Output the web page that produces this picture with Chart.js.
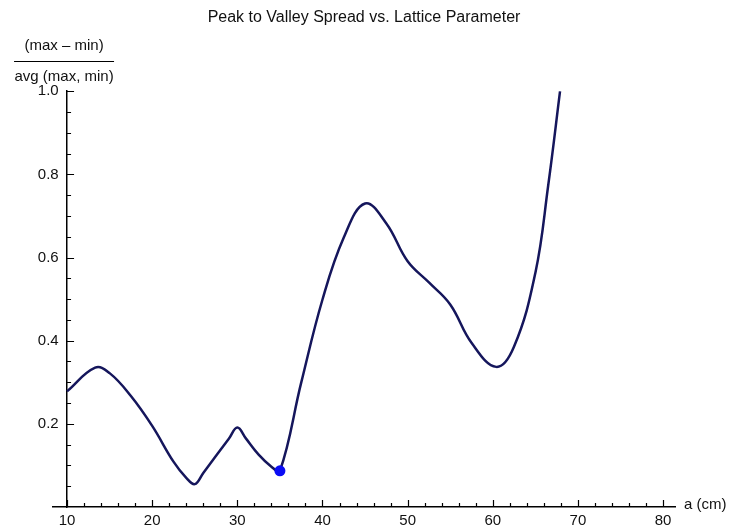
<!DOCTYPE html>
<html>
<head>
<meta charset="utf-8">
<script src="https://cdn.jsdelivr.net/npm/chart.js@4"></script>
<style>
  body { margin: 0; background: #fff; }
  canvas { display: block; }
</style>
</head>
<body>
<canvas id="spreadChart" width="730" height="532"></canvas>
<script>
// lattice parameter a (cm) and the peak-to-valley spread
var latticeA = [10, 13.3, 15, 17.5, 20, 22.5, 24, 25, 26, 29, 30, 31, 32.5, 34, 35, 37.5, 40, 42.5, 45, 47.5, 50, 52.5, 55, 57.5, 60.4, 62.5, 65, 66.5, 67.9];
var spread = [0.278, 0.335, 0.322, 0.267, 0.195, 0.109, 0.070, 0.055, 0.082, 0.164, 0.191, 0.165, 0.126, 0.097, 0.087, 0.299, 0.499, 0.648, 0.730, 0.682, 0.591, 0.540, 0.487, 0.395, 0.337, 0.386, 0.563, 0.772, 1.0];

// highlighted point
var markA = [35];
var markSpread = [0.087];

var xTicks = [10, 20, 30, 40, 50, 60, 70, 80];
var yTicks = [0.2, 0.4, 0.6, 0.8, 1.0];

var textFont = "'Liberation Sans', Arial, sans-serif";

function toPoints(xs, ys) {
    var pts = [];
    for (var i = 0; i < xs.length; i++) {
        pts.push({x: xs[i], y: ys[i]});
    }
    return pts;
}

// mathematica style: ticks point into the plot, minor ticks in between, fraction label
var axisDecor = {
    id: 'axisDecor',
    afterDraw: function (chart) {
        var ctx = chart.ctx;
        var xs = chart.scales.x;
        var ys = chart.scales.y;
        var x0 = xs.getPixelForValue(10);
        var y0 = ys.getPixelForValue(0);
        var i, v, p, len;

        ctx.save();
        ctx.strokeStyle = '#000';
        ctx.lineWidth = 1.2;
        ctx.beginPath();
        for (i = 10; i <= 80; i += 2) {
            p = Math.round(xs.getPixelForValue(i)) + 0.5;
            len = (i % 10 === 0) ? 7 : 4;
            ctx.moveTo(p, y0);
            ctx.lineTo(p, y0 - len);
        }
        for (i = 1; i <= 20; i++) {
            v = i * 0.05;
            p = Math.round(ys.getPixelForValue(v)) + 0.5;
            len = (i % 4 === 0) ? 7 : 4;
            ctx.moveTo(x0, p);
            ctx.lineTo(x0 + len, p);
        }
        ctx.stroke();

        ctx.fillStyle = '#111';
        ctx.font = '15px ' + textFont;
        ctx.textBaseline = 'middle';
        ctx.textAlign = 'left';
        ctx.fillText('a (cm)', xs.right + 9, y0 - 2);

        ctx.textAlign = 'center';
        var cx = x0 - 3;
        ctx.fillText('(max \u2013 min)', cx, 46);
        ctx.fillText('avg (max, min)', cx, 77);
        ctx.beginPath();
        ctx.lineWidth = 1;
        ctx.moveTo(cx - 50, 61.5);
        ctx.lineTo(cx + 50, 61.5);
        ctx.stroke();
        ctx.restore();
    }
};

var spreadData = {
    datasets: [
        {
            label: 'spread',
            data: toPoints(latticeA, spread),
            borderColor: '#15165c',
            borderWidth: 2.5,
            pointRadius: 0,
            tension: 0.4,
            fill: false,
            order: 2
        },
        {
            label: 'marker',
            data: toPoints(markA, markSpread),
            showLine: false,
            pointRadius: 5.5,
            pointBackgroundColor: '#0a0cf5',
            pointBorderColor: '#0a0cf5',
            pointBorderWidth: 0,
            order: 1
        }
    ]
};

var spreadOptions = {
    responsive: false,
    animation: false,
    layout: {
        padding: {left: 53, right: 55, top: 0, bottom: 2}
    },
    plugins: {
        legend: {display: false},
        tooltip: {enabled: false},
        title: {
            display: true,
            text: 'Peak to Valley Spread vs. Lattice Parameter',
            color: '#111',
            font: {family: textFont, size: 16, weight: 'normal'},
            padding: {top: 8, bottom: 64}
        }
    },
    scales: {
        x: {
            type: 'linear',
            position: 'bottom',
            min: 8.35,
            max: 81.4,
            afterBuildTicks: function (axis) {
                axis.ticks = xTicks.map(function (v) { return {value: v}; });
            },
            afterFit: function (axis) {
                axis.height = 23;
            },
            grid: {display: false, drawTicks: false},
            border: {display: true, color: '#000', width: 1.5},
            ticks: {
                color: '#111',
                padding: 5,
                maxRotation: 0,
                font: {family: textFont, size: 15},
                callback: function (v) { return String(v); }
            }
        },
        y: {
            type: 'linear',
            position: {x: 10},
            min: 0,
            max: 1,
            afterBuildTicks: function (axis) {
                axis.ticks = yTicks.map(function (v) { return {value: v}; });
            },
            grid: {display: false, drawTicks: false},
            border: {display: true, color: '#000', width: 1.5},
            ticks: {
                color: '#111',
                font: {family: textFont, size: 15},
                // trailing spaces keep the label off the axis line
                callback: function (v) { return v.toFixed(1) + '  '; }
            }
        }
    }
};

var ctx = document.getElementById('spreadChart').getContext('2d');
new Chart(ctx, {type: 'line', data: spreadData, options: spreadOptions, plugins: [axisDecor]});
</script>
</body>
</html>
